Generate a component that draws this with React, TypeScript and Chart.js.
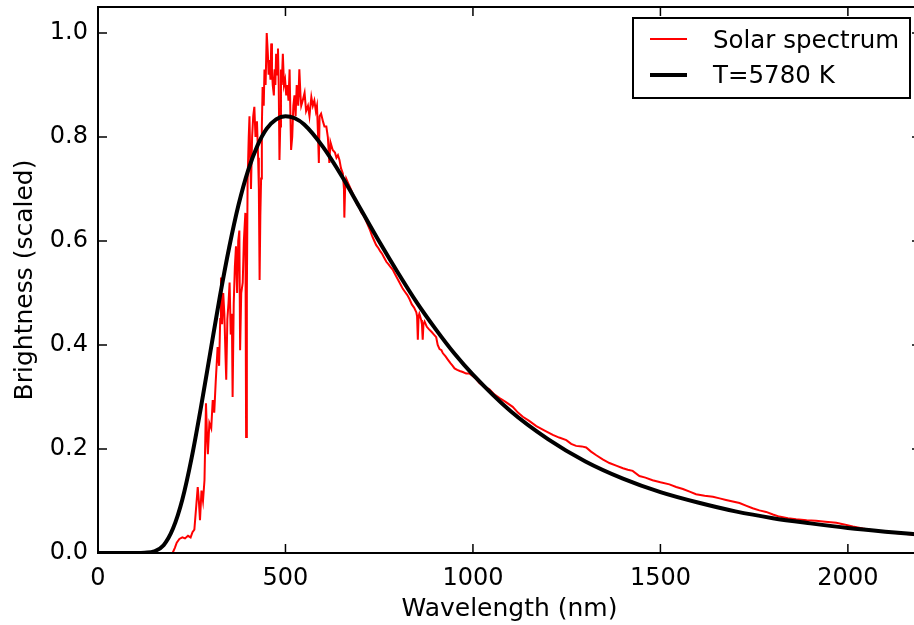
import React, { useEffect, useRef } from "react";
import { Chart, registerables } from "chart.js";

Chart.register(...registerables);

// Solar spectrum
const solarWavelengths = [
  199, 205, 210, 217, 225, 232, 240, 247, 252, 257, 262, 266, 269, 272, 276, 280, 284, 288, 291, 293,
  297, 302, 306, 310, 314, 319, 323, 326, 328, 331, 334, 337, 340, 342, 345, 348, 351, 354, 357, 359,
  362, 365, 368, 371, 374, 377, 379, 382, 386, 389, 393, 395, 397, 399, 402, 404, 406, 408, 411, 414,
  417, 420, 424, 427, 429, 431, 433, 435, 437, 439, 442, 444, 447, 450, 453, 455, 457, 460, 462, 464,
  466, 469, 471, 473, 475, 478, 480, 482, 484, 486, 488, 490, 493, 496, 499, 502, 505, 508, 511, 513,
  515, 518, 521, 524, 527, 530, 534, 537, 540, 542, 546, 551, 555, 560, 564, 569, 573, 577, 581, 584,
  587, 589, 591, 595, 600, 604, 609, 613, 617, 620, 626, 632, 636, 640, 644, 648, 653, 656, 657, 659,
  662, 668, 674, 680, 686, 691, 697, 702, 708, 714, 720, 726, 731, 737, 742, 748, 753, 758, 764, 769,
  775, 780, 786, 791, 797, 802, 808, 813, 819, 825, 831, 837, 843, 849, 851, 853, 855, 857, 862, 864,
  866, 868, 871, 877, 883, 890, 896, 902, 906, 911, 916, 920, 927, 933, 940, 946, 951, 958, 965, 973,
  982, 991, 1000, 1008, 1017, 1030, 1044, 1057, 1071, 1088, 1106, 1120, 1133, 1150, 1169, 1190, 1213, 1230, 1249, 1262,
  1275, 1290, 1302, 1315, 1329, 1346, 1364, 1382, 1400, 1413, 1426, 1444, 1460, 1479, 1500, 1524, 1542, 1560, 1578, 1595,
  1618, 1640, 1658, 1675, 1693, 1711, 1728, 1746, 1764, 1782, 1800, 1817, 1840, 1862, 1890, 1915, 1940, 1969, 1990, 2013,
  2040, 2066, 2093, 2120, 2150, 2175, 2200,
];
const solarValues = [
  0, 0.01, 0.02, 0.027, 0.03, 0.028, 0.033, 0.03, 0.04, 0.045, 0.09, 0.127, 0.1, 0.063, 0.12, 0.1, 0.14, 0.288, 0.22, 0.19,
  0.25, 0.24, 0.294, 0.27, 0.33, 0.396, 0.36, 0.45, 0.53, 0.44, 0.5, 0.46, 0.38, 0.333, 0.45, 0.48, 0.52, 0.42, 0.46, 0.3,
  0.48, 0.55, 0.59, 0.5, 0.6, 0.62, 0.39, 0.5, 0.52, 0.6, 0.654, 0.223, 0.5, 0.717, 0.8, 0.84, 0.76, 0.7, 0.8, 0.84,
  0.858, 0.8, 0.83, 0.76, 0.7, 0.525, 0.65, 0.72, 0.82, 0.896, 0.86, 0.93, 0.9, 1.0, 0.96, 0.92, 0.948, 0.91, 0.98, 0.93,
  0.9, 0.88, 0.93, 0.9, 0.96, 0.92, 0.97, 0.9, 0.756, 0.82, 0.93, 0.9, 0.96, 0.9, 0.91, 0.88, 0.9, 0.87, 0.93, 0.85,
  0.775, 0.8, 0.86, 0.88, 0.84, 0.9, 0.86, 0.93, 0.88, 0.86, 0.87, 0.885, 0.85, 0.86, 0.84, 0.877, 0.86, 0.87, 0.85, 0.86,
  0.8, 0.75, 0.84, 0.845, 0.83, 0.82, 0.82, 0.8, 0.75, 0.79, 0.775, 0.77, 0.76, 0.765, 0.756, 0.74, 0.73, 0.7, 0.645, 0.7,
  0.72, 0.71, 0.7, 0.69, 0.68, 0.67, 0.665, 0.655, 0.65, 0.64, 0.63, 0.62, 0.61, 0.6, 0.592, 0.586, 0.58, 0.575, 0.567, 0.56,
  0.555, 0.55, 0.545, 0.538, 0.53, 0.523, 0.515, 0.508, 0.502, 0.496, 0.488, 0.478, 0.472, 0.463, 0.455, 0.41, 0.455, 0.46, 0.448, 0.44,
  0.41, 0.44, 0.445, 0.435, 0.43, 0.425, 0.42, 0.415, 0.4, 0.392, 0.39, 0.384, 0.378, 0.372, 0.365, 0.36, 0.355, 0.352, 0.35, 0.348,
  0.345, 0.345, 0.34, 0.335, 0.327, 0.32, 0.315, 0.305, 0.298, 0.29, 0.281, 0.27, 0.262, 0.254, 0.244, 0.236, 0.227, 0.222, 0.217, 0.21,
  0.206, 0.205, 0.203, 0.195, 0.188, 0.18, 0.173, 0.168, 0.163, 0.16, 0.158, 0.148, 0.145, 0.14, 0.136, 0.132, 0.127, 0.123, 0.118, 0.113,
  0.11, 0.108, 0.105, 0.102, 0.099, 0.096, 0.091, 0.086, 0.082, 0.079, 0.074, 0.07, 0.067, 0.065, 0.063, 0.062, 0.06, 0.058, 0.055, 0.051,
  0.047, 0.044, 0.041, 0.039, 0.037, 0.035, 0.034,
];

// Blackbody curve T=5780 K
const bbWavelengths = [
  0, 50, 100, 125, 150, 175, 200, 225, 250, 275, 300, 325, 350, 375, 400, 425, 450, 475, 500, 525,
  550, 600, 650, 700, 750, 800, 850, 900, 950, 1000, 1100, 1200, 1300, 1400, 1500, 1600, 1700, 1800, 1900, 2000,
  2100, 2200,
];
const bbValues = [
  0, 0, 0, 0.0005, 0.003, 0.015, 0.047, 0.103, 0.184, 0.282, 0.388, 0.493, 0.588, 0.67, 0.735, 0.783, 0.816, 0.834, 0.84, 0.836,
  0.824, 0.781, 0.725, 0.662, 0.599, 0.539, 0.482, 0.431, 0.384, 0.343, 0.273, 0.219, 0.176, 0.143, 0.117, 0.097, 0.08, 0.067, 0.057, 0.048,
  0.041, 0.035,
];

const xTicks = [0, 500, 1000, 1500, 2000];
const yTicks = [0, 0.2, 0.4, 0.6, 0.8, 1.0];

const seriesLabels = ["Solar spectrum", "T=5780 K"];
const xTitle = "Wavelength (nm)";
const yTitle = "Brightness (scaled)";

const FONT = "'DejaVu Sans', sans-serif";

const framePlugin = {
  id: "frameTicks",
  afterDatasetsDraw(chart: any) {
    const { ctx, chartArea: a, scales } = chart;
    const L = 9;
    ctx.save();
    ctx.strokeStyle = "#000";
    ctx.lineWidth = 1.5;
    ctx.beginPath();
    for (const v of xTicks) {
      const px = scales.x.getPixelForValue(v);
      ctx.moveTo(px, a.bottom);
      ctx.lineTo(px, a.bottom - L);
      ctx.moveTo(px, a.top);
      ctx.lineTo(px, a.top + L);
    }
    for (const v of yTicks) {
      const py = scales.y.getPixelForValue(v);
      ctx.moveTo(a.left, py);
      ctx.lineTo(a.left + L, py);
      ctx.moveTo(a.right, py);
      ctx.lineTo(a.right - L, py);
    }
    ctx.stroke();
    ctx.lineWidth = 2;
    ctx.strokeRect(a.left, a.top, a.right - a.left, a.bottom - a.top);
    ctx.restore();
  },
};

const legendPlugin = {
  id: "insideLegend",
  afterDraw(chart: any) {
    const { ctx, chartArea: a } = chart;
    const w = 277;
    const h = 80;
    const x0 = a.right - 11 - w;
    const y0 = a.top + 11;
    ctx.save();
    ctx.fillStyle = "#fff";
    ctx.fillRect(x0, y0, w, h);
    ctx.strokeStyle = "#000";
    ctx.lineWidth = 2;
    ctx.strokeRect(x0, y0, w, h);
    const rows = [21, 57];
    const baselines = [30, 65];
    chart.data.datasets.forEach((ds: any, i: number) => {
      const yy = y0 + rows[i];
      ctx.strokeStyle = ds.borderColor;
      ctx.lineWidth = ds.borderWidth;
      ctx.beginPath();
      ctx.moveTo(x0 + 17, yy);
      ctx.lineTo(x0 + 54, yy);
      ctx.stroke();
      ctx.fillStyle = "#000";
      ctx.font = `24.5px ${FONT}`;
      ctx.textBaseline = "alphabetic";
      ctx.textAlign = "left";
      ctx.fillText(ds.label, x0 + 80, y0 + baselines[i]);
    });
    ctx.restore();
  },
};

export default function App() {
  const ref = useRef<HTMLCanvasElement | null>(null);

  useEffect(() => {
    if (!ref.current) return;
    const solar = solarWavelengths.map((x, i) => ({ x, y: solarValues[i] }));
    const bb = bbWavelengths.map((x, i) => ({ x, y: bbValues[i] }));
    const chart = new Chart(ref.current, {
      type: "line",
      data: {
        datasets: [
          {
            label: seriesLabels[0],
            data: solar,
            borderColor: "#ff0000",
            borderWidth: 2,
            pointRadius: 0,
            tension: 0,
            order: 1,
          },
          {
            label: seriesLabels[1],
            data: bb,
            borderColor: "#000000",
            borderWidth: 4,
            pointRadius: 0,
            cubicInterpolationMode: "monotone",
            order: 0,
          },
        ],
      },
      options: {
        responsive: false,
        animation: false,
        events: [],
        layout: { padding: { top: 7, right: 1, left: 0, bottom: 0 } },
        plugins: {
          legend: { display: false },
          tooltip: { enabled: false },
          title: { display: false },
        },
        scales: {
          x: {
            type: "linear",
            min: 0,
            max: 2195,
            afterBuildTicks: (s: any) => {
              s.ticks = xTicks.map((value) => ({ value }));
            },
            afterFit: (s: any) => {
              s.height = 72;
              s.paddingLeft = 0;
              s.paddingRight = 0;
            },
            grid: { display: false, drawTicks: false },
            border: { display: false },
            ticks: {
              color: "#000",
              font: { family: FONT, size: 24 },
              padding: 11,
              maxRotation: 0,
              autoSkip: false,
              callback: (v: any) => String(v),
            },
            title: {
              display: true,
              text: xTitle,
              color: "#000",
              font: { family: FONT, size: 25 },
              padding: { top: 0, bottom: 1 },
            },
          },
          y: {
            type: "linear",
            min: 0,
            max: 1.05,
            afterBuildTicks: (s: any) => {
              s.ticks = yTicks.map((value) => ({ value }));
            },
            afterFit: (s: any) => {
              s.width = 98;
              s.paddingTop = 0;
              s.paddingBottom = 0;
            },
            grid: { display: false, drawTicks: false },
            border: { display: false },
            ticks: {
              color: "#000",
              font: { family: FONT, size: 24 },
              padding: 10,
              autoSkip: false,
              callback: (v: any) => Number(v).toFixed(1),
            },
            title: {
              display: true,
              text: yTitle,
              color: "#000",
              font: { family: FONT, size: 25 },
              padding: { top: 10, bottom: 0 },
            },
          },
        },
      },
      plugins: [framePlugin, legendPlugin],
    });
    return () => chart.destroy();
  }, []);

  return (
    <div style={{ position: "fixed", left: 0, top: 0, width: 922, height: 625, overflow: "hidden", background: "#fff" }}>
      <canvas ref={ref} width={922} height={625} />
    </div>
  );
}
